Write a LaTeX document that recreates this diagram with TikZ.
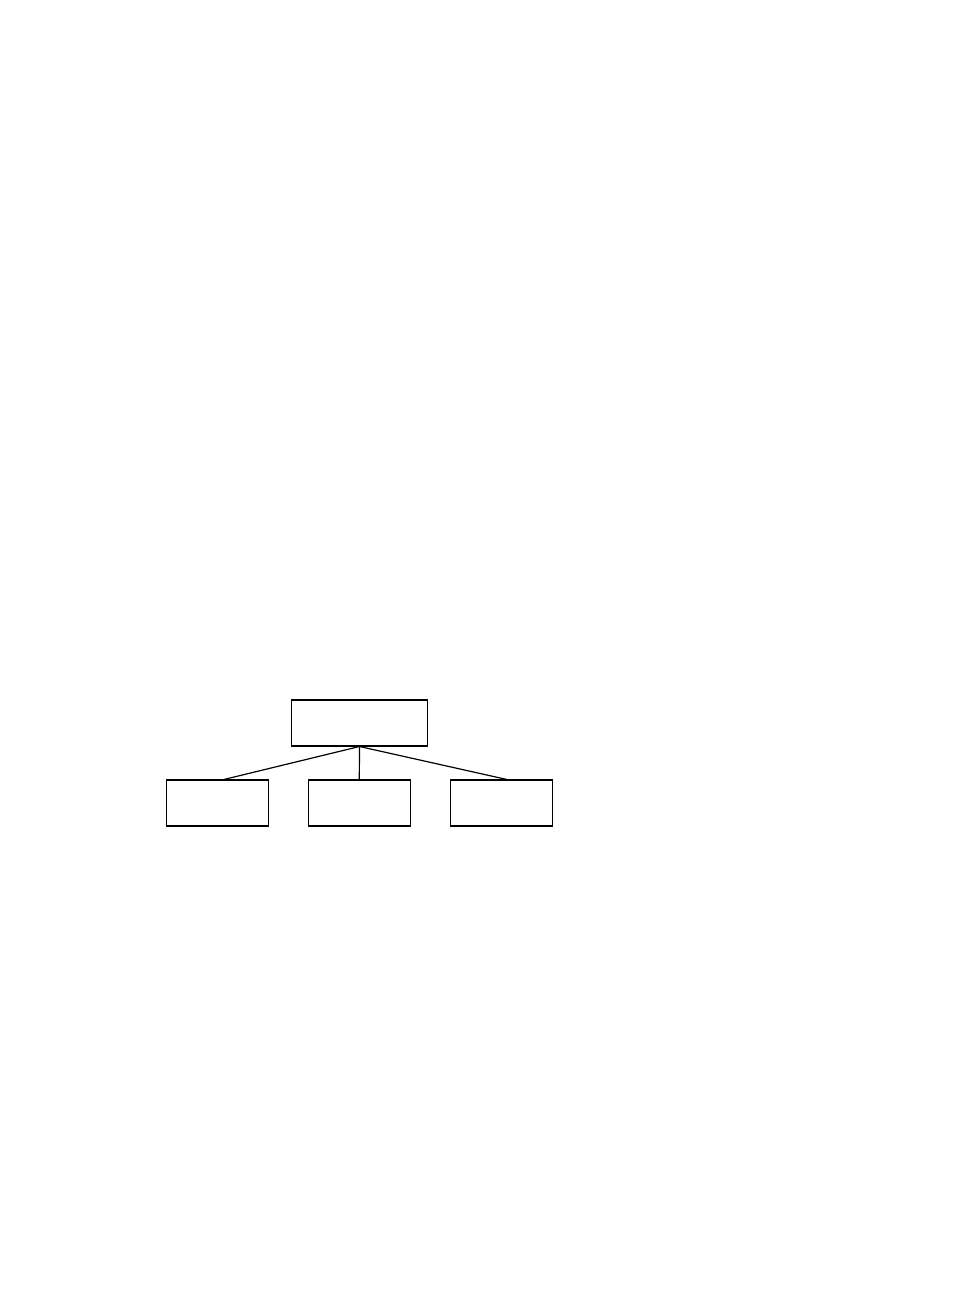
\documentclass[tikz,border=0pt]{standalone}
\begin{document}
\begin{tikzpicture}[x=1pt,y=-1pt,
  box/.style={draw=black,line width=1.1pt,fill=white,minimum width=102pt,minimum height=46pt,inner sep=0pt},
  topbox/.style={box,minimum width=135.6pt,minimum height=45.3pt},
  link/.style={draw=black,line width=1.2pt}]
\useasboundingbox[fill=white] (0,0) rectangle (954,1296);
\node[topbox] (t) at (359.5,723.3) {};
\node[box] (l) at (217.5,803) {};
\node[box] (m) at (359.3,803) {};
\node[box] (r) at (501.7,803) {};
\draw[line width=2.2pt] (t.north west) -- (t.north east);
\draw[link] (t.south) -- ([xshift=6.5pt]l.north);
\draw[link] (t.south) -- (m.north);
\draw[link] (t.south) -- ([xshift=5pt]r.north);
\end{tikzpicture}
\end{document}
